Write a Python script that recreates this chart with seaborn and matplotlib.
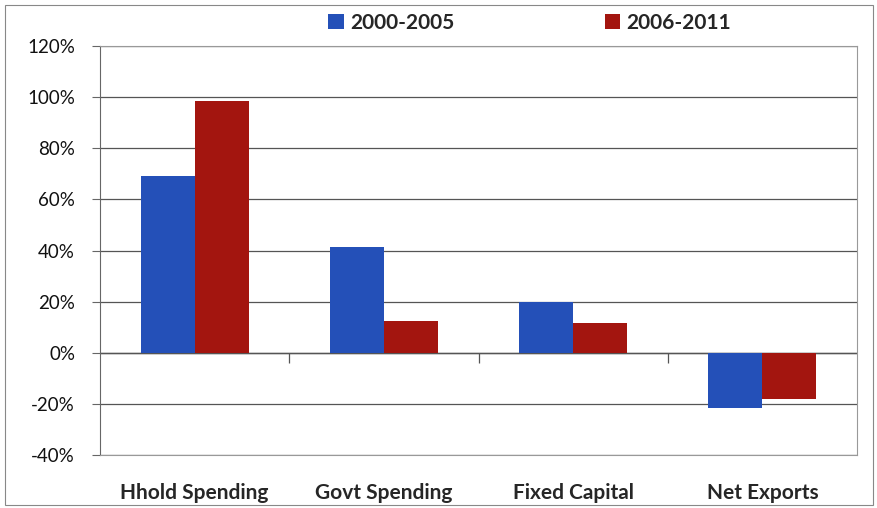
import matplotlib.pyplot as plt
import matplotlib.patches as mpatches
import seaborn as sns
import pandas as pd
from matplotlib.ticker import PercentFormatter

categories = ["Hhold Spending", "Govt Spending", "Fixed Capital", "Net Exports"]
series_names = ["2000-2005", "2006-2011"]
vals_2000_2005 = [69.3, 41.3, 20.0, -21.6]
vals_2006_2011 = [98.4, 12.6, 11.8, -18.1]
colors = ["#2450b8", "#a3150f"]

df = pd.DataFrame({
    "category": categories * 2,
    "period": [series_names[0]] * 4 + [series_names[1]] * 4,
    "value": vals_2000_2005 + vals_2006_2011,
})

sns.set_style("white")
plt.rcParams["font.family"] = ["Lato", "DejaVu Sans"]
plt.rcParams["axes.unicode_minus"] = False

fig = plt.figure(figsize=(8.77, 5.08), dpi=100)
ax = fig.add_axes([100 / 877, 53 / 508, 757 / 877, 409 / 508])

sns.barplot(data=df, x="category", y="value", hue="period", palette=colors,
            width=0.57, gap=0, saturation=1, linewidth=0, ax=ax, legend=True)

ax.set_ylim(-40, 120)
ax.set_xlim(-0.5, 3.5)
ax.set_yticks(range(-40, 121, 20))
ax.yaxis.set_major_formatter(PercentFormatter(decimals=0))
ax.grid(axis="y", color="#555555", linewidth=0.9)
ax.set_axisbelow(True)
ax.set_xlabel("")
ax.set_ylabel("")
ax.tick_params(axis="y", labelsize=13.5, length=6, color="#666666", left=True, pad=12)
ax.tick_params(axis="x", labelsize=15, length=0, pad=20)
for lbl in ax.get_xticklabels():
    lbl.set_fontweight("bold")
for lbl in ax.get_yticklabels():
    lbl.set_color("#111111")

for side in ["top", "right", "bottom"]:
    ax.spines[side].set_color("#999999")
    ax.spines[side].set_linewidth(0.8)
ax.spines["left"].set_color("#666666")

# zero axis with category separator ticks
ax.axhline(0, color="#555555", linewidth=1.0, zorder=0.5)
ax.vlines([0.5, 1.5, 2.5], -4, 0, color="#555555", linewidth=0.9)

handles, labels = ax.get_legend_handles_labels()
ax.legend(handles, labels, loc="center", bbox_to_anchor=(0.604, 0.955),
          bbox_transform=fig.transFigure, ncol=2, frameon=False,
          handlelength=0.75, handleheight=0.75, handletextpad=0.3,
          columnspacing=7.2, prop={"weight": "bold", "size": 15})

fig.patches.append(mpatches.Rectangle((0.006, 0.006), 0.99, 0.985, transform=fig.transFigure,
                                      fill=False, edgecolor="#888888", linewidth=0.8))

plt.savefig("out.png", dpi=100)
